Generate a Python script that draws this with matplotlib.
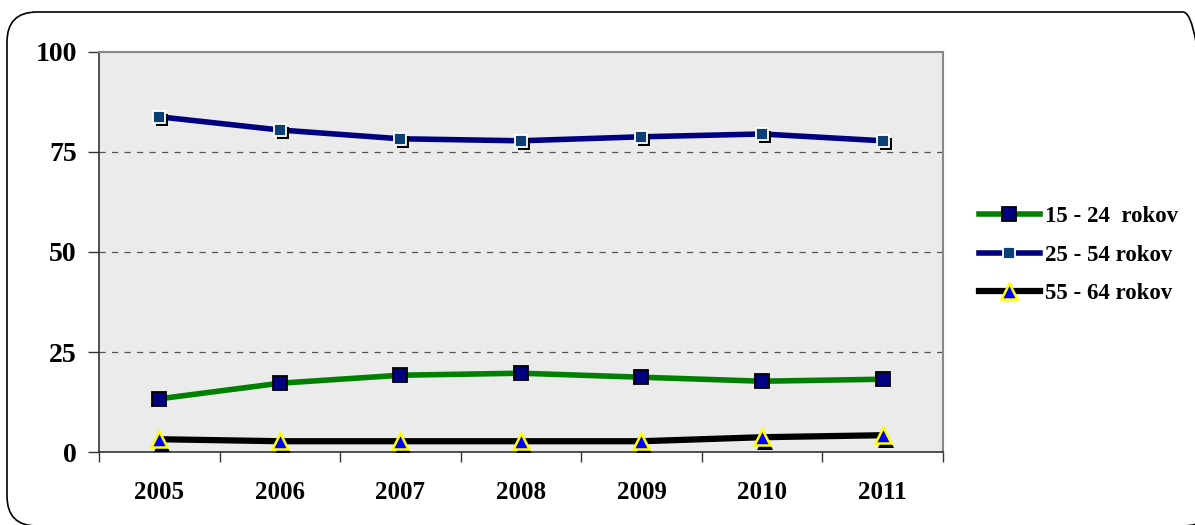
import matplotlib
matplotlib.use("Agg")
import matplotlib.pyplot as plt
from matplotlib.patches import FancyBboxPatch
from matplotlib.transforms import offset_copy
from matplotlib.lines import Line2D

years = ["2005", "2006", "2007", "2008", "2009", "2010", "2011"]
s15_24 = [13.3, 17.2, 19.2, 19.7, 18.7, 17.7, 18.2]
s25_54 = [83.8, 80.5, 78.3, 77.8, 78.8, 79.5, 77.8]
s55_64 = [3.2, 2.7, 2.7, 2.7, 2.7, 3.7, 4.2]
labels = ["15 - 24  rokov", "25 - 54 rokov", "55 - 64 rokov"]
yticks = [0, 25, 50, 75, 100]

plt.rcParams['font.family'] = ['Liberation Serif', 'DejaVu Serif']
plt.rcParams['font.weight'] = 'bold'

fig = plt.figure(figsize=(11.95, 5.25), dpi=100)
fig.patch.set_facecolor('white')

# rounded outer border
border = FancyBboxPatch((0.07, -0.01), 12.06, 5.14,
                        boxstyle="round,pad=0,rounding_size=0.3",
                        transform=fig.dpi_scale_trans, fill=False,
                        edgecolor='black', linewidth=1.2)
fig.patches.append(border)

ax = fig.add_axes([0.0828, 0.139, 0.7062, 0.762])
ax.set_facecolor('#ebebeb')
x = list(range(len(years)))
ax.set_xlim(-0.5, len(years) - 0.5)
ax.set_ylim(0, 100)

for yv in [25, 50, 75]:
    ax.axhline(yv, color='#555555', lw=0.9, ls=(0, (5, 5)), zorder=1)

shadow = offset_copy(ax.transData, fig=fig, x=3, y=-3, units='dots')
shadow_t = offset_copy(ax.transData, fig=fig, x=3, y=-5, units='dots')

# 15-24
ax.plot(x, s15_24, color='#008000', lw=4, zorder=3, solid_capstyle='butt')
ax.plot(x, s15_24, ls='none', marker='s', ms=10.5, mfc='#000080', mec='black', mew=1.3, zorder=4)

# 25-54
ax.plot(x, s25_54, color='#000080', lw=4, zorder=3)
ax.plot(x, s25_54, ls='none', marker='s', ms=9, mfc='black', mec='black', mew=0, zorder=3.5,
        transform=shadow)
ax.plot(x, s25_54, ls='none', marker='s', ms=9, mfc='#0b3f75', mec='white', mew=1.3, zorder=4)

# 55-64
ax.plot(x, s55_64, color='black', lw=4.5, zorder=3)
ax.plot(x, s55_64, ls='none', marker='^', ms=12, mfc='black', mec='black', mew=0, zorder=3.5,
        transform=shadow_t)
ax.plot(x, s55_64, ls='none', marker='^', ms=11, mfc='#0000ff', mec='#ffff00', mew=1.8, zorder=4)

# spines
for side in ['top', 'right']:
    ax.spines[side].set_color('#888888')
    ax.spines[side].set_linewidth(1.5)
ax.spines['left'].set_color('#333333')
ax.spines['bottom'].set_color('#333333')
ax.spines['left'].set_linewidth(1.2)
ax.spines['bottom'].set_linewidth(1.2)

ax.set_yticks(yticks)
ax.set_yticklabels([str(v) for v in yticks], fontsize=20, fontweight='bold')
ax.tick_params(axis='y', direction='out', length=8, width=1, pad=8, color='#333333')

ax.set_xticks(x)
ax.set_xticklabels(years, fontsize=18, fontweight='bold')
ax.tick_params(axis='x', which='major', length=0, pad=21)
ax.set_xticks([i - 0.5 for i in range(len(years) + 1)], minor=True)
ax.tick_params(axis='x', which='minor', direction='out', length=7, width=1, color='#333333')

h1 = Line2D([], [], color='#008000', lw=4, marker='s', ms=10.5, mfc='#000080', mec='black', mew=1.3)
h2 = Line2D([], [], color='#000080', lw=4, marker='s', ms=9, mfc='#0b3f75', mec='white', mew=1.3)
h3 = Line2D([], [], color='black', lw=4.5, marker='^', ms=11, mfc='#0000ff', mec='#ffff00', mew=1.8)
leg = fig.legend([h1, h2, h3], labels, loc='center left', bbox_to_anchor=(0.815, 0.514),
                 frameon=False, prop={'family': 'Liberation Serif', 'weight': 'bold', 'size': 16.5},
                 handlelength=2.7, handletextpad=0.2, labelspacing=0.75, borderaxespad=0,
                 borderpad=0.2)

fig.savefig('out.png', dpi=100)
